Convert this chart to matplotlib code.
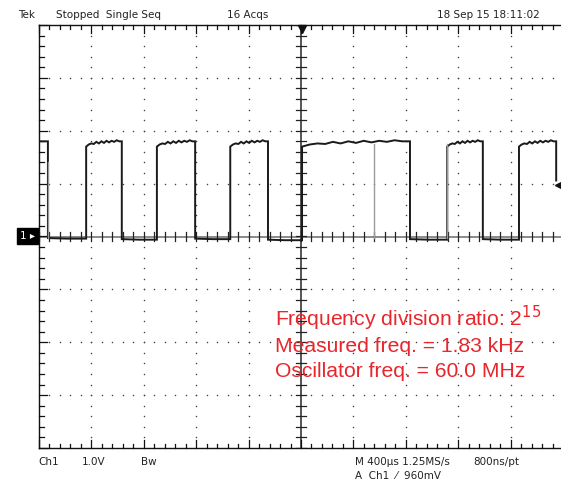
import numpy as np
import matplotlib
matplotlib.use("Agg")
import matplotlib.pyplot as plt

# --- trace data (divisions, 1.0 V/div, 400 us/div) ---
edge_times = [-4.83, -4.10, -3.42, -2.75, -2.02, -1.35, -0.63, 0.02, 2.08, 2.79, 3.47, 4.16, 4.87]
start_high = True
high_ripple = [1.70, 1.74, 1.76, 1.75, 1.79, 1.76, 1.80, 1.77, 1.81, 1.78, 1.81, 1.79, 1.82, 1.80]
low_levels = [-0.03, -0.05, -0.04, -0.06, -0.05, -0.05, -0.04, -0.06]
end_level = 1.06
gray_edges = [-4.83, 1.39, 2.79]   # edges drawn faint by the scope

header = ["Tek", "Stopped  Single Seq", "16 Acqs", "18 Sep 15 18:11:02"]
footer = ["Ch1", "1.0V", "Bw", "M 400\u00b5s 1.25MS/s", "800ns/pt", "A  Ch1  \u2044  960mV"]
notes = ["Frequency division ratio: 2$^{15}$", "Measured freq. = 1.83 kHz", "Oscillator freq. = 60.0 MHz"]

W, H = 561, 484
fig = plt.figure(figsize=(W / 100, H / 100), dpi=100)
fig.patch.set_facecolor("white")
left, right, top, bottom = 39, 563, 25, 448
ax = fig.add_axes([left / W, 1 - bottom / H, (right - left) / W, (bottom - top) / H])
ax.set_xlim(-5, 5)
ax.set_ylim(-4, 4)
ax.axis("off")

# graticule dots
dot_x, dot_y = [], []
for gx in range(-4, 5):
    if gx == 0:
        continue
    for s in np.arange(-4, 4.01, 0.2):
        dot_x.append(gx); dot_y.append(s)
for gy in range(-3, 4):
    if gy == 0:
        continue
    for s in np.arange(-5, 5.01, 0.2):
        dot_x.append(s); dot_y.append(gy)
ax.scatter(dot_x, dot_y, s=1.2, color="#444444", lw=0, zorder=1)

# center cross with ticks
ax.plot([-5, 5], [0, 0], color="#8a8a8a", lw=1.4, zorder=1)
ax.plot([0, 0], [-4, 4], color="#555555", lw=1.4, zorder=1)
tk = 0.09
for s in np.arange(-5, 5.01, 0.2):
    ax.plot([s, s], [-tk, tk], color="#222222", lw=0.9, zorder=2)
for s in np.arange(-4, 4.01, 0.2):
    ax.plot([-tk, tk], [s, s], color="#222222", lw=0.9, zorder=2)

# border with inward ticks
ax.plot([-5, 5], [4, 4], color="#111111", lw=1.0, clip_on=False)
ax.plot([-5, 5], [-4, -4], color="#111111", lw=1.0, clip_on=False)
ax.plot([-5, -5], [-4, 4], color="#111111", lw=1.0, clip_on=False)
for s in np.arange(-5, 5.01, 0.2):
    major = abs(s - round(s)) < 1e-6
    ln = 0.16 if major else 0.08
    ax.plot([s, s], [4, 4 - ln], color="#111111", lw=0.9, clip_on=False)
    ax.plot([s, s], [-4, -4 + ln], color="#111111", lw=0.9, clip_on=False)
for s in np.arange(-4, 4.01, 0.2):
    major = abs(s - round(s)) < 1e-6
    ln = 0.16 if major else 0.1
    ax.plot([-5, -5 + ln], [s, s], color="#111111", lw=0.9, clip_on=False)

# build the trace
xs, ys = [-5.0], [high_ripple[-1]]
level_high = start_high
li = 0
for i, t in enumerate(edge_times):
    if level_high:
        xs.append(t); ys.append(ys[-1])
        if i == len(edge_times) - 1:
            xs.append(t); ys.append(end_level)
            break
        lo = low_levels[li % len(low_levels)]
        li += 1
        xs.append(t); ys.append(lo)
        nxt = edge_times[i + 1]
        xs.append((t + nxt) / 2); ys.append(lo - 0.01)
    else:
        xs.append(t); ys.append(ys[-1])
        nxt = edge_times[i + 1]
        px = np.linspace(t, nxt, len(high_ripple) + 1)[:-1]
        xs.extend(px); ys.extend(high_ripple)
    level_high = not level_high
ax.plot(xs, ys, color="#1a1a1a", lw=1.4, zorder=3, solid_joinstyle="miter")
for g in gray_edges:
    ax.plot([g, g], [-0.02, 1.4 if g < -4 else 1.74], color="#9a9a9a", lw=1.0, zorder=4)

# markers
ax.plot([0.02], [3.93], marker="v", color="#111111", ms=6, clip_on=False, zorder=5)
ax.plot([4.9], [0.97], marker="<", color="#111111", ms=5, clip_on=False, zorder=5)

# channel marker on the left
fig.text(20 / W, 1 - 236 / H, "1 \u25b8", color="white", fontsize=7.5, va="center", ha="left",
         bbox=dict(boxstyle="square,pad=0.3", fc="black", ec="black"))

# header / footer texts
hfont = ["Liberation Sans Narrow", "DejaVu Sans"]
for txt, x in zip(header, [18, 56, 227, 437]):
    fig.text(x / W, 1 - 15 / H, txt, fontsize=7.5, family=hfont, va="center", color="#222222")
for txt, x, y in zip(footer, [38, 82, 141, 355, 473, 355], [462, 462, 462, 462, 462, 476]):
    fig.text(x / W, 1 - y / H, txt, fontsize=7.5, family=hfont, va="center", color="#222222")

# red annotation
for txt, yb in zip(notes, [326, 352, 377]):
    fig.text(275 / W, 1 - yb / H, txt, fontsize=15.2, color="#e8262c",
             family=["Liberation Sans", "DejaVu Sans"], va="baseline", ha="left")

fig.savefig("out.png", dpi=100, facecolor="white")
